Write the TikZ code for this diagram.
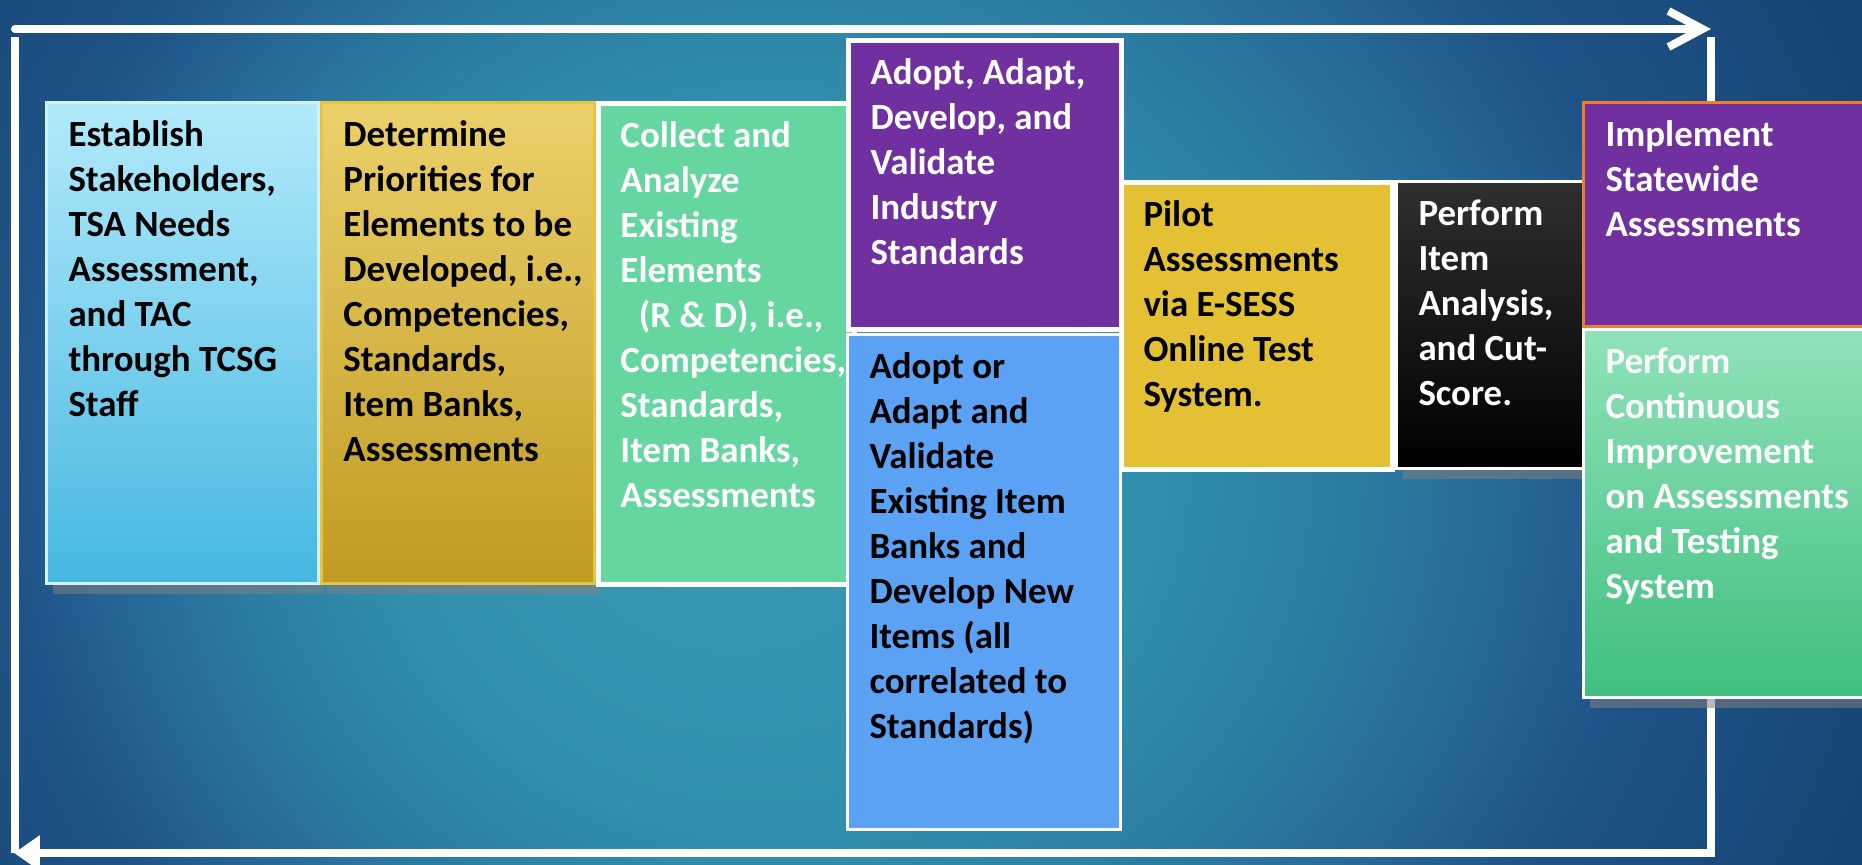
\documentclass[tikz,border=0pt]{standalone}
\usepackage{fontspec}
\setmainfont{Carlito}
\usepackage{tikz}
\usetikzlibrary{arrows.meta,positioning,shadows}
\hfuzz=60pt

\definecolor{bga}{HTML}{399AB3}
\definecolor{bgb}{HTML}{3290AE}
\definecolor{bgc}{HTML}{2B7DA2}
\definecolor{bgd}{HTML}{276A98}
\definecolor{bge}{HTML}{1F5488}
\definecolor{bgf}{HTML}{14406F}
\definecolor{bgg}{HTML}{10386A}
\definecolor{estt}{HTML}{B2EAFB}
\definecolor{estb}{HTML}{45B7E1}
\definecolor{priot}{HTML}{ECD06A}
\definecolor{priob}{HTML}{C09B22}
\definecolor{priod}{HTML}{E8C43E}
\definecolor{collf}{HTML}{66D6A0}
\definecolor{purp}{HTML}{7030A0}
\definecolor{bankf}{HTML}{5BA2F4}
\definecolor{pilotf}{HTML}{E4C035}
\definecolor{itemt}{HTML}{2F2F2F}
\definecolor{impld}{HTML}{ED7D31}
\definecolor{contt}{HTML}{90E2B8}
\definecolor{contb}{HTML}{3FBF80}

\pgfdeclareradialshading{bgshade}{\pgfpoint{-6bp}{-1.5bp}}{color(0bp)=(bga); color(10bp)=(bgb); color(15bp)=(bgc); color(18.5bp)=(bgd); color(22bp)=(bge); color(31bp)=(bgf); color(40bp)=(bgg)}

\begin{document}
\begin{tikzpicture}[x=0.1mm, y=-0.1mm, font=\fontsize{10.5}{12.8}\selectfont\bfseries,
	stage/.style 2 args={anchor=north west, align=flush left, draw=white, line width=0.5mm,
		minimum width=#1, text width=#1-1mm, text height=2.9mm, text depth=#2-5.9mm,
		inner xsep=0.5mm, inner ysep=1.5mm, execute at begin node={\leftskip=1.7mm}},
	frame/.style={draw=white, line width=0.8mm},
	barb/.style={-{Straight Barb[length=3.4mm, width=3.6mm]}, line cap=round},
	head/.style={-{Triangle[length=2.6mm, width=3.4mm]}},
	shadowed/.style={drop shadow={shadow xshift=0.6mm, shadow yshift=-1mm, opacity=0.55}}]
	\useasboundingbox (0,0) rectangle (1862,864);
	\clip (0,0) rectangle (1862,864);
	\shade [shading=bgshade] (0,-432) rectangle (1862,1296);

	% Frame corners
	\coordinate (tl) at (15,29);
	\coordinate (tr) at (1711,29);
	\coordinate (rt) at (1711,37);
	\coordinate (rb) at (1711,857);
	\coordinate (br) at (1711,853);
	\coordinate (bl) at (14,853);
	\coordinate (lt) at (15,37);
	\coordinate (lb) at (15,853);

	% Frame
	\draw [frame, barb] (tl) -- (tr);
	\draw [frame]       (rt) -- (rb);
	\draw [frame, head] (br) -- (bl);
	\draw [frame]       (lt) -- (lb);

	% Stages {est, prio, coll, ind, bank, pilot, item, impl, cont}
	\node [stage={27.2mm}{48.1mm}, shadowed, top color=estt, bottom color=estb, draw=estt!60!white, line width=0.3mm]
		(est) at (45,101) {Establish\\Stakeholders,\\TSA Needs\\Assessment,\\and TAC\\through TCSG\\Staff};
	\node [stage={27.3mm}{48.1mm}, shadowed, top color=priot, bottom color=priob, draw=priod, line width=0.3mm]
		(prio) at (est.north east) {Determine\\Priorities for\\Elements to be\\Developed, i.e.,\\Competencies,\\Standards,\\Item Banks,\\Assessments};
	\node [stage={25.6mm}{48.1mm}, fill=collf, text=white]
		(coll) at (prio.north east) {Collect and\\Analyze\\Existing\\Elements\\\hspace*{0.5em}(R \& D), i.e.,\\Competencies,\\Standards,\\Item Banks,\\Assessments};
	\node [stage={27.3mm}{28.9mm}, fill=purp, text=white]
		(ind) at (846,38) {Adopt, Adapt,\\Develop, and\\Validate\\Industry\\Standards};
	\node [stage={27.3mm}{49.5mm}, fill=bankf, line width=0.3mm]
		(bank) at (846,333) {Adopt or\\Adapt and\\Validate\\Existing Item\\Banks and\\Develop New\\Items (all\\correlated to\\Standards)};
	\node [stage={27.1mm}{28.7mm}, fill=pilotf]
		(pilot) at (1119,180) {Pilot\\Assessments\\via E-SESS\\Online Test\\System.};
	\node [stage={19.2mm}{28.7mm}, shadowed, top color=itemt, bottom color=black, text=white, line width=0.3mm]
		(item) at (pilot.north east) {Perform\\Item\\Analysis,\\and Cut-\\Score.};
	\node [stage={29mm}{22.4mm}, fill=purp, draw=impld, line width=0.3mm, text=white]
		(impl) at (1582,101) {Implement\\Statewide\\Assessments};
	\node [stage={29mm}{36.8mm}, shadowed, top color=contt, bottom color=contb, line width=0.3mm, text=white]
		(cont) at (impl.south west) {Perform\\Continuous\\Improvement\\on Assessments\\and Testing\\System};
\end{tikzpicture}
\end{document}
